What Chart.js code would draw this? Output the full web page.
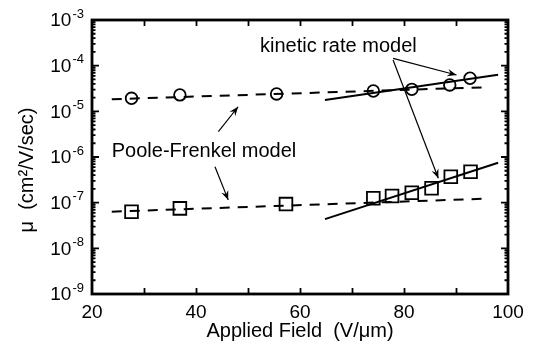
<!DOCTYPE html>
<html>
<head>
<meta charset="utf-8">
<script src="https://cdn.jsdelivr.net/npm/chart.js@4.4.0/dist/chart.umd.min.js"></script>
<style>
  html, body { margin: 0; padding: 0; background: #fff; }
  #wrap { width: 537px; height: 358px; }
</style>
</head>
<body>
<div id="wrap"><canvas id="c" width="537" height="358"></canvas></div>
<script>
// Measured mobility vs applied field
const circleField = [27.6, 36.9, 55.5, 74.1, 81.5, 88.8, 92.7];
const circleMu    = [1.93e-5, 2.29e-5, 2.4e-5, 2.79e-5, 3.03e-5, 3.78e-5, 5.3e-5];
const squareField = [27.6, 36.9, 57.3, 74.1, 77.7, 81.5, 85.3, 89.0, 92.8];
const squareMu    = [6.35e-8, 7.5e-8, 9.3e-8, 1.25e-7, 1.4e-7, 1.65e-7, 2.06e-7, 3.7e-7, 4.77e-7];

// Model curves (end points of each fitted line)
const pfUpperField = [23.8, 95.4];
const pfUpperMu    = [1.84e-5, 3.36e-5];
const pfLowerField = [23.8, 95.3];
const pfLowerMu    = [6.35e-8, 1.22e-7];
const krUpperField = [64.8, 98.1];
const krUpperMu    = [1.78e-5, 6.3e-5];
const krLowerField = [64.8, 98.1];
const krLowerMu    = [4.37e-8, 7.5e-7];

// Axis ticks
const xTicks = [20, 40, 60, 80, 100];
const xMajor = [30, 40, 50, 60, 70, 80, 90];
const yExps  = [-3, -4, -5, -6, -7, -8, -9];

const FONT = '"Liberation Sans", Arial, Helvetica, sans-serif';

const pts = (xs, ys) => xs.map((x, i) => ({ x: x, y: ys[i] }));

// Annotation labels and arrows, placed in data units
const notes = [
  { text: 'kinetic rate model', x: 52.3, y: 2.6e-4 },
  { text: 'Poole-Frenkel model', x: 23.8, y: 1.3e-6 }
];
const arrows = [
  { from: [77.9, 1.45e-4], to: [90.1, 6.25e-5] },
  { from: [77.9, 1.33e-4], to: [86.6, 3.42e-7] },
  { from: [44.3, 3.58e-6], to: [48.1, 1.26e-5] },
  { from: [43.65, 6.14e-7], to: [46.2, 1.15e-7] }
];

const decor = {
  id: 'decor',
  afterDraw(chart) {
    const ctx = chart.ctx;
    const a = chart.chartArea;
    const xs = chart.scales.x, ys = chart.scales.y;
    ctx.save();
    ctx.strokeStyle = '#000';
    ctx.fillStyle = '#000';

    // ticks, inward on all four sides
    ctx.lineWidth = 1.8;
    ctx.beginPath();
    xMajor.forEach(v => {
      const px = Math.round(xs.getPixelForValue(v)) + 0.5;
      ctx.moveTo(px, a.bottom); ctx.lineTo(px, a.bottom - 6);
      ctx.moveTo(px, a.top); ctx.lineTo(px, a.top + 6);
    });
    for (let e = -9; e <= -3; e++) {
      const py = ys.getPixelForValue(Math.pow(10, e));
      ctx.moveTo(a.left, py); ctx.lineTo(a.left + 7, py);
      ctx.moveTo(a.right, py); ctx.lineTo(a.right - 7, py);
      if (e < -3) {
        for (let m = 2; m <= 9; m++) {
          const q = ys.getPixelForValue(m * Math.pow(10, e));
          ctx.moveTo(a.left, q); ctx.lineTo(a.left + 3.5, q);
          ctx.moveTo(a.right, q); ctx.lineTo(a.right - 3.5, q);
        }
      }
    }
    ctx.stroke();

    // frame
    ctx.lineWidth = 2.8;
    ctx.strokeRect(a.left, a.top, a.right - a.left, a.bottom - a.top);

    // x tick labels
    ctx.font = '19px ' + FONT;
    ctx.textAlign = 'center';
    ctx.textBaseline = 'middle';
    xTicks.forEach(v => {
      ctx.fillText(String(v), xs.getPixelForValue(v), a.bottom + 19);
    });

    // y tick labels: 10 with superscript exponent
    yExps.forEach(e => {
      const py = ys.getPixelForValue(Math.pow(10, e));
      ctx.font = '13px ' + FONT;
      const sup = '-' + Math.abs(e);
      const sw = ctx.measureText(sup).width;
      ctx.textAlign = 'right';
      ctx.textBaseline = 'middle';
      ctx.fillText(sup, a.left - 8, py - 6);
      ctx.font = '19px ' + FONT;
      ctx.fillText('10', a.left - 9 - sw, py + 1);
    });

    // axis titles
    ctx.font = '20px ' + FONT;
    ctx.textAlign = 'center';
    ctx.textBaseline = 'middle';
    ctx.fillText('Applied Field  (V/\u03BCm)', (a.left + a.right) / 2, a.bottom + 37);
    ctx.save();
    ctx.translate(27, (a.top + a.bottom) / 2 + 13);
    ctx.rotate(-Math.PI / 2);
    ctx.fillText('\u03BC  (cm\u00B2/V/sec)', 0, 0);
    ctx.restore();

    // annotations
    ctx.textAlign = 'left';
    notes.forEach(n => {
      ctx.fillText(n.text, xs.getPixelForValue(n.x), ys.getPixelForValue(n.y));
    });
    ctx.lineWidth = 1.2;
    arrows.forEach(ar => {
      const x1 = xs.getPixelForValue(ar.from[0]), y1 = ys.getPixelForValue(ar.from[1]);
      const x2 = xs.getPixelForValue(ar.to[0]), y2 = ys.getPixelForValue(ar.to[1]);
      ctx.beginPath(); ctx.moveTo(x1, y1); ctx.lineTo(x2, y2); ctx.stroke();
      const ang = Math.atan2(y2 - y1, x2 - x1);
      const L = 10, W = 0.38;
      ctx.beginPath();
      ctx.moveTo(x2, y2);
      ctx.lineTo(x2 - L * Math.cos(ang - W), y2 - L * Math.sin(ang - W));
      ctx.lineTo(x2 - 0.6 * L * Math.cos(ang), y2 - 0.6 * L * Math.sin(ang));
      ctx.lineTo(x2 - L * Math.cos(ang + W), y2 - L * Math.sin(ang + W));
      ctx.closePath();
      ctx.fill();
    });
    ctx.restore();
  }
};

const lineDs = (xs, ys, dash) => ({
  type: 'line', data: pts(xs, ys), borderColor: '#000', borderWidth: 2,
  borderDash: dash, pointRadius: 0, fill: false, tension: 0
});

new Chart(document.getElementById('c'), {
  type: 'scatter',
  data: {
    datasets: [
      lineDs(pfUpperField, pfUpperMu, [10, 8]),
      lineDs(pfLowerField, pfLowerMu, [10, 8]),
      lineDs(krUpperField, krUpperMu, []),
      lineDs(krLowerField, krLowerMu, []),
      { data: pts(circleField, circleMu), pointStyle: 'circle', pointRadius: 5.8,
        borderColor: '#000', backgroundColor: 'rgba(0,0,0,0)', pointBorderWidth: 1.8 },
      { data: pts(squareField, squareMu), pointStyle: 'rect', pointRadius: 9,
        borderColor: '#000', backgroundColor: 'rgba(0,0,0,0)', pointBorderWidth: 1.8 }
    ]
  },
  options: {
    responsive: false,
    animation: false,
    events: [],
    layout: { padding: { left: 0, right: 29, top: 20, bottom: 0 } },
    plugins: { legend: { display: false }, tooltip: { enabled: false } },
    scales: {
      x: {
        type: 'linear', min: 20, max: 100,
        grid: { display: false, drawTicks: false },
        border: { display: false },
        ticks: { display: false },
        afterFit: s => { s.height = 64; }
      },
      y: {
        type: 'logarithmic', min: 1e-9, max: 1e-3,
        grid: { display: false, drawTicks: false },
        border: { display: false },
        ticks: { display: false },
        afterFit: s => { s.width = 92; }
      }
    }
  },
  plugins: [decor]
});
</script>
</body>
</html>
